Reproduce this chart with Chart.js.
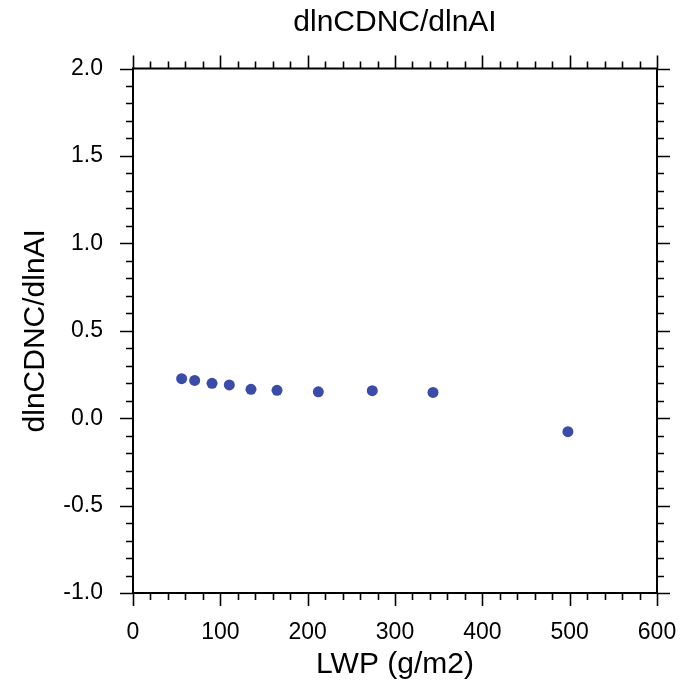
<!DOCTYPE html>
<html>
<head>
<meta charset="utf-8">
<script src="https://cdn.jsdelivr.net/npm/chart.js@4"></script>
<style>
  html, body { margin: 0; padding: 0; background: #fff; }
  canvas { display: block; }
</style>
</head>
<body>
<canvas id="chart" width="686" height="688"></canvas>
<script>
// values
const lwp = [55.7, 70.6, 90.5, 110.3, 135.1, 164.9, 212.2, 274, 343.5, 498];
const slope = [0.226, 0.216, 0.199, 0.190, 0.165, 0.159, 0.151, 0.157, 0.147, -0.077];

// axis ticks
const xTicks = [0, 100, 200, 300, 400, 500, 600];
const yTicks = [-1.0, -0.5, 0.0, 0.5, 1.0, 1.5, 2.0];
const xMinorStep = 20;
const yMinorStep = 0.1;

const chartTitle = 'dlnCDNC/dlnAI';
const FONT = '"Liberation Sans", Arial, Helvetica, sans-serif';

// NCL style frame: border plus outward ticks on all four sides, title over the plot
const frameTicks = {
    id: 'frameTicks',
    afterDraw(chart) {
        const ctx = chart.ctx;
        const a = chart.chartArea;
        const xs = chart.scales.x, ys = chart.scales.y;
        const major = 13, minor = 7;
        ctx.save();
        ctx.strokeStyle = '#000';
        ctx.lineWidth = 1.6;
        ctx.beginPath();
        const xmin = xTicks[0], xmax = xTicks[xTicks.length - 1];
        const nx = Math.round((xmax - xmin) / xMinorStep);
        for (let i = 0; i <= nx; i++) {
            const v = xmin + i * xMinorStep;
            const px = Math.round(xs.getPixelForValue(v)) + 0.5;
            const len = xTicks.some(t => Math.abs(t - v) < 1e-6) ? major : minor;
            ctx.moveTo(px, a.bottom); ctx.lineTo(px, a.bottom + len);
            ctx.moveTo(px, a.top); ctx.lineTo(px, a.top - len);
        }
        const ymin = yTicks[0], ymax = yTicks[yTicks.length - 1];
        const ny = Math.round((ymax - ymin) / yMinorStep);
        for (let i = 0; i <= ny; i++) {
            const v = ymin + i * yMinorStep;
            const py = Math.round(ys.getPixelForValue(v)) + 0.5;
            const len = yTicks.some(t => Math.abs(t - v) < 1e-6) ? major : minor;
            ctx.moveTo(a.left, py); ctx.lineTo(a.left - len, py);
            ctx.moveTo(a.right, py); ctx.lineTo(a.right + len, py);
        }
        ctx.stroke();
        ctx.lineWidth = 2;
        ctx.strokeRect(a.left, a.top, a.right - a.left, a.bottom - a.top);

        // title centred over the plot area
        ctx.fillStyle = '#000';
        ctx.font = '30px ' + FONT;
        ctx.textAlign = 'center';
        ctx.textBaseline = 'middle';
        ctx.fillText(chartTitle, (a.left + a.right) / 2, 23);
        ctx.restore();
    }
};

new Chart(document.getElementById('chart'), {
    type: 'scatter',
    data: {
        datasets: [{
            data: lwp.map((x, i) => ({ x: x, y: slope[i] })),
            backgroundColor: '#3b4ba8',
            borderColor: '#3b4ba8',
            pointRadius: 5.5,
            pointBorderWidth: 0
        }]
    },
    options: {
        responsive: false,
        animation: false,
        devicePixelRatio: 1,
        layout: { padding: { left: 0, right: 29, top: 68.5, bottom: 0 } },
        plugins: {
            legend: { display: false },
            tooltip: { enabled: false },
            title: { display: false }
        },
        scales: {
            x: {
                type: 'linear',
                min: xTicks[0],
                max: xTicks[xTicks.length - 1],
                afterBuildTicks: s => { s.ticks = xTicks.map(v => ({ value: v })); },
                afterFit: s => { s.height = 95; s.paddingLeft = 0; s.paddingRight = 0; },
                grid: { display: false },
                border: { display: false },
                ticks: {
                    color: '#000',
                    font: { family: FONT, size: 23 },
                    padding: 18,
                    maxRotation: 0,
                    callback: v => String(v)
                },
                title: {
                    display: true,
                    text: 'LWP (g/m2)',
                    color: '#000',
                    font: { family: FONT, size: 30 },
                    padding: { top: 0, bottom: 5 }
                }
            },
            y: {
                type: 'linear',
                min: yTicks[0],
                max: yTicks[yTicks.length - 1],
                afterBuildTicks: s => { s.ticks = yTicks.map(v => ({ value: v })); },
                afterFit: s => { s.width = 133; s.paddingTop = 0; s.paddingBottom = 0; },
                grid: { display: false },
                border: { display: false },
                ticks: {
                    color: '#000',
                    font: { family: FONT, size: 23 },
                    padding: 22,
                    callback: v => v.toFixed(1)
                },
                title: {
                    display: true,
                    text: 'dlnCDNC/dlnAI',
                    color: '#000',
                    font: { family: FONT, size: 30 },
                    padding: { top: 18, bottom: 0 }
                }
            }
        }
    },
    plugins: [frameTicks]
});
</script>
</body>
</html>
